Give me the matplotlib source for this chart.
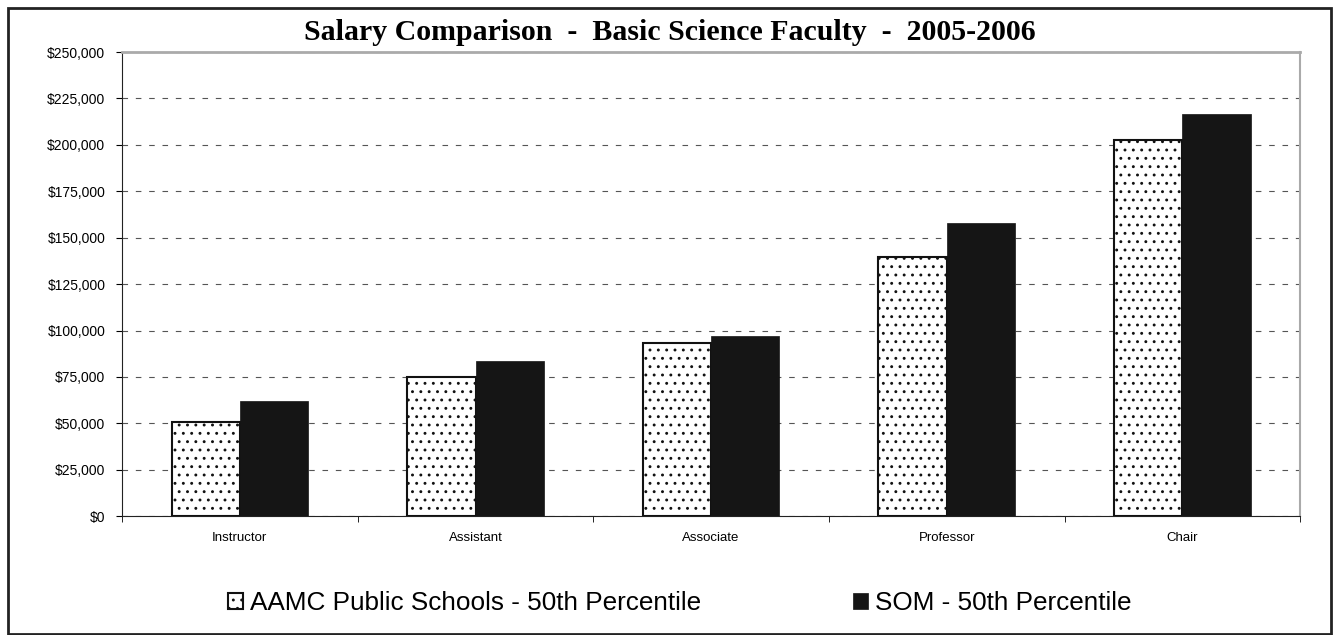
import numpy as np
import matplotlib.pyplot as plt
from matplotlib.patches import Rectangle
from matplotlib.ticker import FuncFormatter

categories = ['Instructor', 'Assistant', 'Associate', 'Professor', 'Chair']
aamc = [51000, 75000, 93500, 139500, 202500]
som = [62000, 83500, 97000, 158000, 216500]
series_names = ['AAMC Public Schools - 50th Percentile', 'SOM - 50th Percentile']

plt.rcParams['hatch.linewidth'] = 0.9
plt.rcParams['hatch.color'] = '#222222'

fig = plt.figure(figsize=(13.35, 6.35), dpi=100)
ax = fig.add_axes([0.0914, 0.187, 0.8826, 0.731])

x = np.arange(len(categories))
w = 0.29
ax.bar(x - w/2, aamc, w, facecolor='white', edgecolor='#111111', linewidth=1.5, hatch='..', label=series_names[0], zorder=3)
ax.bar(x + w/2, som, w, facecolor='#151515', edgecolor='#151515', linewidth=0.5, label=series_names[1], zorder=3)

ax.set_xlim(-0.5, len(categories) - 0.5)
ax.set_ylim(0, 250000)
ax.set_yticks(np.arange(0, 250001, 25000))
ax.yaxis.set_major_formatter(FuncFormatter(lambda v, p: '${:,.0f}'.format(v)))
ax.set_xticks(x)
ax.set_xticklabels(categories, fontsize=9.5, family='Liberation Sans')
ax.tick_params(axis='x', length=0, pad=11)
ax.set_xticks(np.arange(-0.5, len(categories), 1), minor=True)
ax.tick_params(axis='x', which='minor', length=4, direction='out')
ax.tick_params(axis='y', length=4, labelsize=10, pad=8)
for t in ax.get_yticklabels():
    t.set_family('Liberation Sans')

ax.yaxis.grid(True, linestyle=(0, (5, 7)), color='#555555', linewidth=0.8, zorder=0)
ax.spines['left'].set_color('#222222')
ax.spines['bottom'].set_color('#222222')
ax.spines['top'].set_color('#aaaaaa')
ax.spines['right'].set_color('#aaaaaa')
ax.spines['top'].set_linewidth(2)
ax.spines['right'].set_linewidth(1.5)

fig.text(0.502, 0.949, 'Salary Comparison  -  Basic Science Faculty  -  2005-2006',
         ha='center', va='center', fontsize=21.5, fontweight='bold', family='Liberation Serif')

leg = fig.legend(loc='center', bbox_to_anchor=(0.509, 0.05), ncol=2, frameon=False,
                 prop={'family': 'Liberation Sans', 'size': 18.8}, handlelength=0.6,
                 handleheight=0.6, handletextpad=0.25, columnspacing=5.8)

fig.patches.append(Rectangle((0.006, 0.002), 0.991, 0.985, transform=fig.transFigure,
                             fill=False, edgecolor='#222222', linewidth=2))

fig.savefig('out.png', dpi=100)
